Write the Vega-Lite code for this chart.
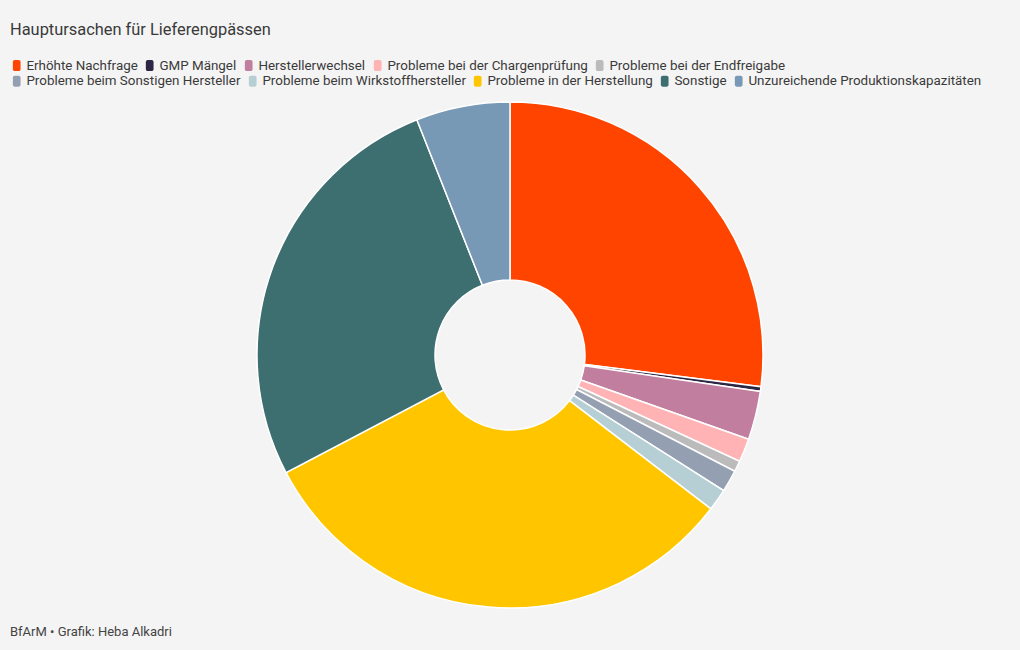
{
  "$schema": "https://vega.github.io/schema/vega-lite/v6.json",
  "width": 1020,
  "height": 650,
  "autosize": {"type": "fit", "contains": "padding"},
  "padding": {"left": 10, "right": 10, "top": 100, "bottom": 12},
  "background": "#f4f4f4",
  "title": {"text": "BfArM • Grafik: Heba Alkadri", "orient": "bottom", "anchor": "start", "fontSize": 13, "fontWeight": "normal", "color": "#444444", "font": "Roboto", "offset": 15},
  "data": {"values": [
    {"idx": 1, "cat": "Erhöhte Nachfrage", "value": 27.0},
    {"idx": 2, "cat": "GMP Mängel", "value": 0.3},
    {"idx": 3, "cat": "Herstellerwechsel", "value": 3.1},
    {"idx": 4, "cat": "Probleme bei der Chargenprüfung", "value": 1.5},
    {"idx": 5, "cat": "Probleme bei der Endfreigabe", "value": 0.7},
    {"idx": 6, "cat": "Probleme beim Sonstigen Hersteller", "value": 1.4},
    {"idx": 7, "cat": "Probleme beim Wirkstoffhersteller", "value": 1.4},
    {"idx": 8, "cat": "Probleme in der Herstellung", "value": 31.9},
    {"idx": 9, "cat": "Sonstige", "value": 26.7},
    {"idx": 10, "cat": "Unzureichende Produktionskapazitäten", "value": 6.0}
  ]},
  "transform": [
    {"stack": "value", "groupby": [], "sort": [{"field": "idx", "order": "ascending"}], "as": ["v0", "v1"]}
  ],
  "layer": [
    {
      "transform": [{"filter": "datum.idx <= 5"}],
      "mark": {"type": "arc", "outerRadius": 253, "innerRadius": 75, "stroke": "#ffffff", "strokeWidth": 1.5},
      "encoding": {
        "theta": {"field": "v0", "type": "quantitative", "scale": {"domain": [0, 100]}},
        "theta2": {"field": "v1"},
        "color": {
          "field": "cat",
          "type": "nominal",
          "scale": {
            "domain": ["Erhöhte Nachfrage", "GMP Mängel", "Herstellerwechsel", "Probleme bei der Chargenprüfung", "Probleme bei der Endfreigabe"],
            "range": ["#ff4400", "#2e2645", "#c27e9e", "#ffb3b5", "#bbbbbb"]
          },
          "legend": {
            "orient": "none",
            "legendX": 0,
            "legendY": -78,
            "title": "Hauptursachen für Lieferengpässen",
            "titleOrient": "top",
            "titleAnchor": "start",
            "titleFontSize": 16.4,
            "titleFontWeight": "normal",
            "titleColor": "#3a3a3a",
            "titleFont": "Roboto",
            "titlePadding": 20,
            "titleLimit": 1000
          }
        }
      }
    },
    {
      "transform": [{"filter": "datum.idx > 5"}],
      "mark": {"type": "arc", "outerRadius": 253, "innerRadius": 75, "stroke": "#ffffff", "strokeWidth": 1.5},
      "encoding": {
        "theta": {"field": "v0", "type": "quantitative"},
        "theta2": {"field": "v1"},
        "color": {
          "field": "cat",
          "type": "nominal",
          "scale": {
            "domain": ["Probleme beim Sonstigen Hersteller", "Probleme beim Wirkstoffhersteller", "Probleme in der Herstellung", "Sonstige", "Unzureichende Produktionskapazitäten"],
            "range": ["#94a0b2", "#b6cfd4", "#ffc600", "#3d6e70", "#7799b5"]
          },
          "legend": {"title": null, "orient": "none", "legendX": 0, "legendY": -26}
        }
      }
    }
  ],
  "resolve": {"scale": {"color": "independent"}},
  "config": {
    "view": {"stroke": null},
    "legend": {
      "direction": "horizontal",
      "labelFont": "Roboto",
      "labelFontSize": 13.4,
      "labelColor": "#3a3a3a",
      "labelOffset": 3,
      "labelLimit": 0,
      "symbolType": "M-0.35,-1H0.35A0.35,0.35 0 0 1 0.7,-0.65V0.65A0.35,0.35 0 0 1 0.35,1H-0.35A0.35,0.35 0 0 1 -0.7,0.65V-0.65A0.35,0.35 0 0 1 -0.35,-1Z",
      "symbolSize": 121,
      "symbolStrokeWidth": 0,
      "symbolOpacity": 1,
      "columnPadding": 5,
      "rowPadding": 4,
      "symbolLimit": 0
    }
  }
}
